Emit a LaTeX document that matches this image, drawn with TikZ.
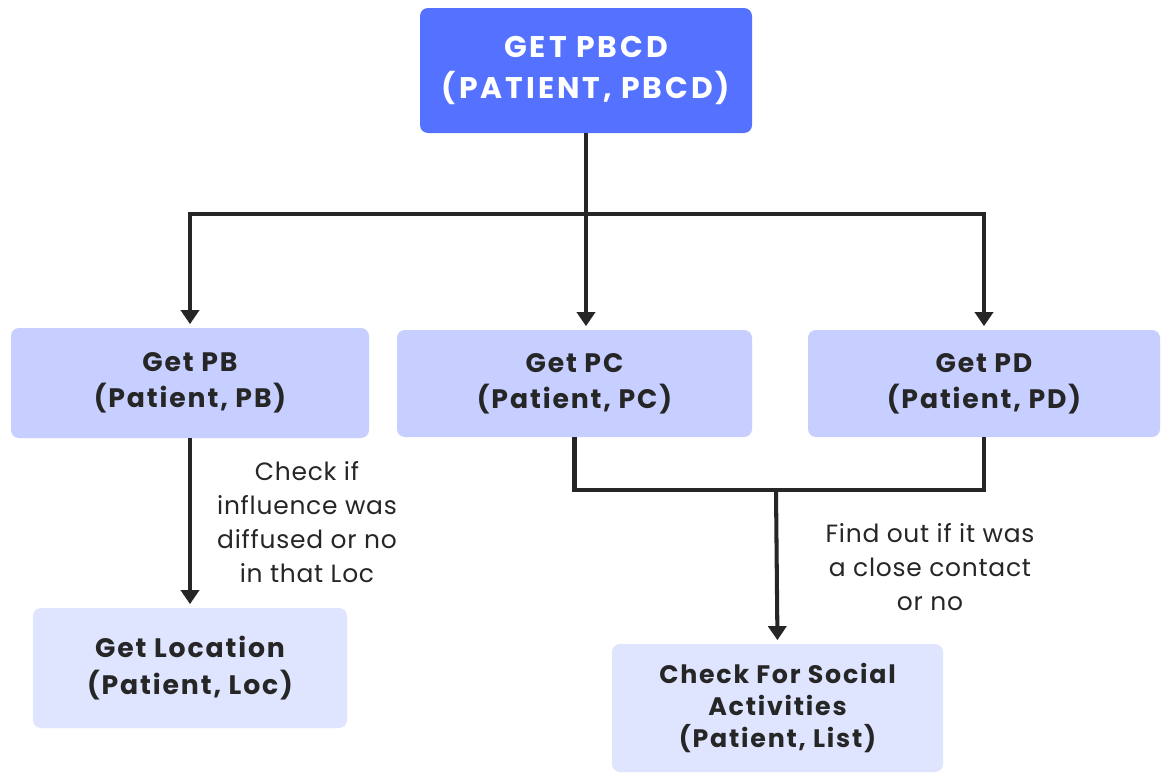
\documentclass[tikz,border=0pt]{standalone}
\usepackage{fontspec}
\setmainfont{Poppins}
\newfontfamily\boxfont{Poppins}[LetterSpace=7]
\newfontfamily\titlefont{Poppins}[LetterSpace=10]
\newfontfamily\notefont{Poppins}[LetterSpace=3]
\usetikzlibrary{arrows.meta}
\definecolor{topblue}{RGB}{84,114,255}
\definecolor{midblue}{RGB}{198,207,255}
\definecolor{paleblue}{RGB}{224,229,255}
\definecolor{ink}{RGB}{38,38,38}
\begin{document}
\begin{tikzpicture}[x=0.02cm,y=-0.02cm,
  box/.style={rectangle,rounded corners=0.16cm,align=center,inner sep=0pt,text=ink,font=\boxfont\bfseries\fontsize{15.2}{20.6}\selectfont},
  mainbox/.style={box,fill=topblue,text=white,font=\titlefont\bfseries\fontsize{17}{23}\selectfont},
  stepbox/.style={box,fill=midblue},
  leafbox/.style={box,fill=paleblue},
  link/.style={draw=ink,line width=2.3pt},
  arrow/.style={link,-{Triangle[width=0.36cm,length=0.28cm]},shorten >=2pt},
  note/.style={align=center,text=ink,font=\notefont\fontsize{14.2}{19.2}\selectfont}]
\useasboundingbox (0,0) rectangle (1161,774);
\fill[white] (0,0) rectangle (1161,774);
\clip (0,0) rectangle (1161,774);

% boxes
\node[mainbox,minimum width=332*0.02cm,minimum height=125*0.02cm] (pbcd) at (586,70.5) {GET PBCD\\(PATIENT, PBCD)};
\node[stepbox,minimum width=358*0.02cm,minimum height=110*0.02cm] (pb) at (190,383) {Get PB\\(Patient, PB)};
\node[stepbox,minimum width=355*0.02cm,minimum height=107*0.02cm] (pc) at (574.5,383.5) {Get PC\\(Patient, PC)};
\node[stepbox,minimum width=352*0.02cm,minimum height=107*0.02cm] (pd) at (984,383.5) {Get PD\\(Patient, PD)};
\node[leafbox,minimum width=314*0.02cm,minimum height=120*0.02cm] (loc) at (190,668) {Get Location\\(Patient, Loc)};
\node[leafbox,minimum width=331*0.02cm,minimum height=128*0.02cm,font=\boxfont\bfseries\fontsize{14.4}{18.2}\selectfont] (social) at (777.5,708) {Check For Social\\Activities\\(Patient, List)};

% junction points
\coordinate (split) at (586,214);
\coordinate (join) at (776,490);

% connectors
\draw[link] (pbcd.south -| split) -- (split);
\draw[arrow] (split) -| (pb.north);
\draw[arrow] (split) -- (split |- pc.north);
\draw[arrow] (split) -| (pd.north);
\draw[arrow] (pb) -- (loc);
\draw[link] (pc.south) |- (join) -| (pd.south);
\draw[arrow] (join) -- (social.north);

% notes
\node[note] (noteloc) at (307,522) {Check if\\influence was\\diffused or no\\in that Loc};
\node[note] (notesoc) at (930,567) {Find out if it was\\a close contact\\or no};
\end{tikzpicture}
\end{document}
